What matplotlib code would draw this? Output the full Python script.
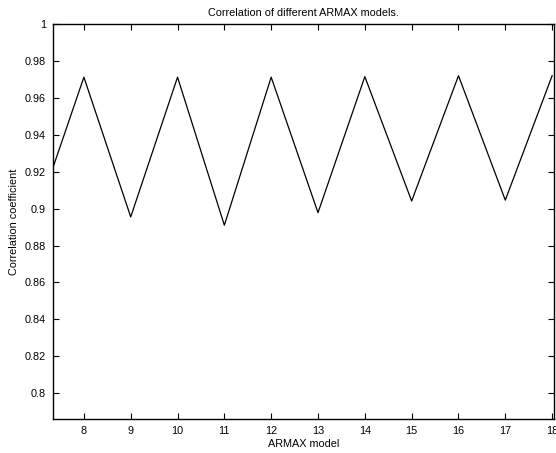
import matplotlib
matplotlib.use("Agg")
import matplotlib.pyplot as plt

models = [7, 8, 9, 10, 11, 12, 13, 14, 15, 16, 17, 18]
corr = [0.897, 0.9712, 0.8955, 0.9712, 0.891, 0.9712, 0.8978, 0.9715, 0.9041, 0.972, 0.9046, 0.972]
xticks = [8, 9, 10, 11, 12, 13, 14, 15, 16, 17, 18]
yticks = [0.8, 0.82, 0.84, 0.86, 0.88, 0.9, 0.92, 0.94, 0.96, 0.98, 1.0]
ytick_labels = ["0.8", "0.82", "0.84", "0.86", "0.88", "0.9", "0.92", "0.94", "0.96", "0.98", "1"]

plt.rcParams['font.family'] = ['Liberation Sans', 'DejaVu Sans']
fig = plt.figure(figsize=(5.56, 4.53), dpi=100)
ax = fig.add_axes([0.0953, 0.075, 0.9011, 0.872])
ax.plot(models, corr, color='black', linewidth=0.9)
ax.set_xlim(7.34, 18.04)
ax.set_ylim(0.786, 1.0)
ax.set_xticks(xticks)
ax.set_yticks(yticks)
ax.set_yticklabels(ytick_labels)
ax.tick_params(direction='in', top=True, right=True, labelsize=7.8, length=4, width=0.8, pad=5)
for s in ax.spines.values():
    s.set_linewidth(1.0)
ax.set_title("Correlation of different ARMAX models.", fontsize=7.8, pad=6)
ax.set_xlabel("ARMAX model", fontsize=7.8, labelpad=2)
ax.set_ylabel("Correlation coefficient", fontsize=7.8, labelpad=4)
fig.savefig("out.png", dpi=100)
